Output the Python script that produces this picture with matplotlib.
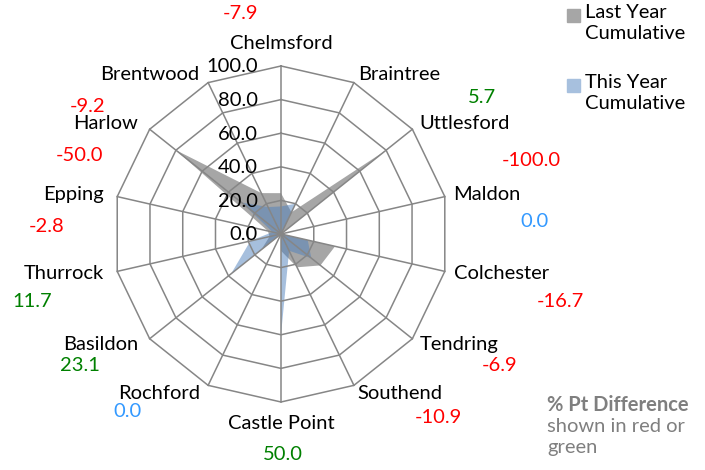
import numpy as np
from matplotlib import pyplot as plt
from matplotlib.patches import Rectangle

plt.rcParams['font.family'] = ['Lato', 'DejaVu Sans']

categories = ['Chelmsford', 'Braintree', 'Uttlesford', 'Maldon', 'Colchester', 'Tendring',
              'Southend', 'Castle Point', 'Rochford', 'Basildon', 'Thurrock', 'Epping',
              'Harlow', 'Brentwood']
last_year = [24.3, 14.3, 80.0, 0.0, 33.0, 30.0, 22.0, 10.0, 0.0, 15.0, 7.0, 8.0, 80.0, 27.0]
this_year = [16.4, 20.0, 0.0, 0.0, 16.3, 23.1, 11.1, 60.0, 0.0, 38.0, 18.7, 5.2, 30.0, 17.8]
pt_diff = [-7.9, 5.7, -100.0, 0.0, -16.7, -6.9, -10.9, 50.0, 0.0, 23.1, 11.7, -2.8, -50.0, -9.2]
ring_values = [0, 20, 40, 60, 80, 100]

# where the difference labels sit, in pixels from the outer vertex (x right, y down)
diff_offsets = [(-41, -52), (128, 15), (119, 31), (90, 25), (116, 30), (87, 27), (84, 32),
                (2, 53), (-81, 26), (-70, 27), (-85, 30), (-71, 30), (-70, 26), (-121, 24)]

grid_col = '#868686'
fs = 14.5

n = len(categories)
theta = np.arange(n) * 2 * np.pi / n
closed = np.append(theta, theta[0])

fig = plt.figure(figsize=(7.05, 4.70), dpi=100)
ax = fig.add_axes([0.1603, 0.1447, 0.4766, 0.7149], projection='polar')
ax.set_theta_zero_location('N')
ax.set_theta_direction(-1)
ax.set_ylim(0, 100)
ax.grid(False)
ax.spines['polar'].set_visible(False)
ax.set_xticks([])
ax.set_yticks([])
ax.patch.set_alpha(0)

ax.fill(closed, np.append(last_year, last_year[0]), color='#a6a6a6', lw=0, zorder=2)
ax.fill(closed, np.append(this_year, this_year[0]), color='#4f81bd', alpha=0.5, lw=0, zorder=3)

# polygon gridlines + spokes
for r in ring_values[1:]:
    ax.plot(closed, [r] * (n + 1), color=grid_col, lw=1.1, zorder=4, clip_on=False)
for t in theta:
    ax.plot([t, t], [0, 100], color=grid_col, lw=1.1, zorder=4, clip_on=False)

for r in ring_values:
    ax.annotate(f'{r:.1f}', xy=(0, r), xytext=(-23, -1), textcoords='offset pixels',
                ha='right', va='center', fontsize=fs, color='black', zorder=6)

for i, (t, name) in enumerate(zip(theta, categories)):
    s, c = np.sin(t), np.cos(t)
    if abs(s) < 0.1:
        dx, dy, ha = 0, 22 * c, 'center'
    elif s > 0:
        dx, dy, ha = 9 * s, 9 * c, 'left'
    else:
        dx, dy, ha = 9 * s - 4.5, 9 * c, 'right'
    ax.annotate(name, xy=(t, 100), xytext=(dx, dy), textcoords='offset pixels',
                ha=ha, va='center', fontsize=fs, color='black', annotation_clip=False)

    d = pt_diff[i]
    col = '#ff0000' if d < 0 else ('#008000' if d > 0 else '#3399ff')
    ox, oy = diff_offsets[i]
    ax.annotate(f'{d:.1f}', xy=(t, 100), xytext=(ox, -oy), textcoords='offset pixels',
                ha='center', va='center', fontsize=fs, color=col, annotation_clip=False)

# legend
W, H = 705, 470
for y, col, txt in [(15, '#a6a6a6', 'Last Year\nCumulative'),
                    (85, '#a7c0de', 'This Year\nCumulative')]:
    fig.patches.append(Rectangle((567 / W, 1 - (y + 6.5) / H), 13 / W, 13 / H,
                                 color=col, transform=fig.transFigure))
    fig.text(585 / W, 1 - (y - 11) / H, txt, ha='left', va='top', fontsize=fs,
             linespacing=1.3)

fig.text(547 / W, 1 - 395 / H, '% Pt Difference', ha='left', va='top', fontsize=fs,
         color='#7f7f7f', fontweight='bold')
fig.text(547 / W, 1 - 418 / H, 'shown in red or\ngreen', ha='left', va='top', fontsize=fs,
         color='#7f7f7f', linespacing=1.3)

plt.savefig('out.png', dpi=100)
plt.close()
